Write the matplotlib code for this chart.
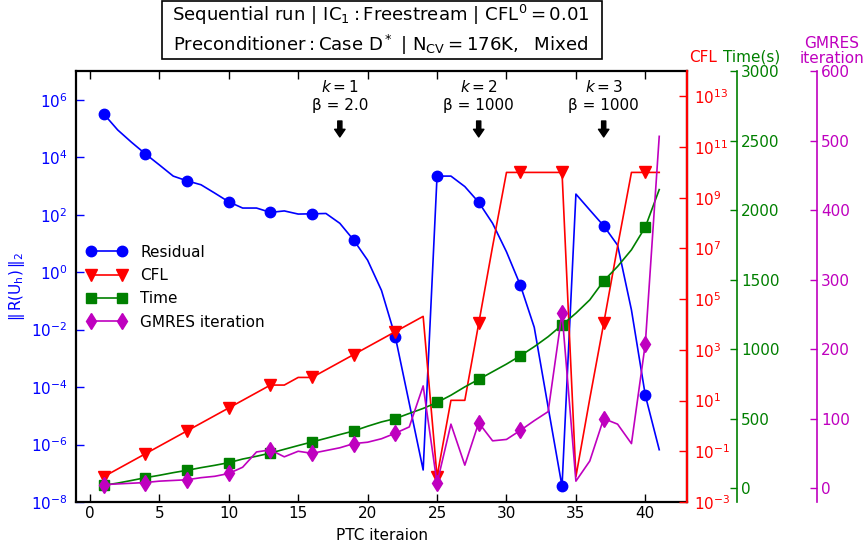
"""
Convergence history of the PTC solver: residual, CFL, wall time and
GMRES iterations against the pseudo-time iteration.
"""
import numpy as np
import matplotlib
matplotlib.use("Agg")
import matplotlib.pyplot as plt
import matplotlib.transforms as mtransforms
from matplotlib.patches import Rectangle

iters = np.arange(1, 42)

residual = [3.2e5, 8.9e4, 3.3e4, 1.3e4, 5.4e3, 2.2e3, 1.5e3, 1.1e3, 5.6e2, 2.8e2,
            1.7e2, 1.7e2, 1.2e2, 1.35e2, 1.05e2, 1.07e2, 1.1e2, 50.0, 13.0, 2.6,
            0.23, 5.5e-3, 2.7e-5, 1.3e-7, 2.2e3, 2.2e3, 9.5e2, 2.7e2, 50.0, 5.1,
            0.35, 1.2e-2, 2.0e-5, 3.5e-8, 5.2e2, 1.45e2, 41.0, 8.7, 4.8e-2, 5.1e-5,
            6.6e-7]

cfl = [0.01, 0.02, 0.04, 0.08, 0.16, 0.32, 0.64, 1.28, 2.56, 5.12,
       10.24, 20.48, 40.96, 40.96, 81.92, 81.92, 163.84, 327.68, 655.36, 1310.72,
       2621.44, 5242.88, 10485.76, 20971.52, 0.01, 10.24, 10.24, 1.1e4, 1.2e7, 1e10,
       1e10, 1e10, 1e10, 1e10, 0.01, 12.0, 1.1e4, 1.2e7, 1e10, 1e10,
       1e10]

time_s = [20, 36, 55, 75, 92, 111, 128, 147, 164, 183,
          209, 229, 252, 279, 306, 332, 358, 385, 411, 445,
          476, 500, 537, 573, 616, 668, 728, 782, 837, 892,
          952, 1017, 1089, 1173, 1258, 1354, 1490, 1594, 1714, 1878,
          2147]

gmres = [5, 6, 7, 8, 10, 11, 12, 15, 17, 21,
         30, 52, 55, 45, 53, 50, 54, 58, 64, 66,
         71, 79, 88, 147, 7, 92, 33, 94, 68, 70,
         83, 97, 110, 252, 10, 39, 100, 92, 64, 208,
         506]

# k, beta of each restart and the iteration it is marked at
restart_iter = [18, 28, 37]
restart_k = ["1", "2", "3"]
restart_beta = ["2.0", "1000", "1000"]

plt.rcParams['font.family'] = 'DejaVu Sans'
plt.rcParams['font.size'] = 11

fig = plt.figure(figsize=(8.65, 5.48), dpi=100)
ax = fig.add_axes([76/865, 1 - 502/548, (687 - 76)/865, (502 - 71)/548])
ax2 = ax.twinx()
ax3 = ax.twinx()
ax4 = ax.twinx()

ms = 7.5
l1, = ax.semilogy(iters, residual, 'b-', marker='o', markevery=(0, 3), ms=ms,
                  mec='b', lw=1.2, label='Residual')
l2, = ax2.semilogy(iters, cfl, 'r-', marker='v', markevery=(0, 3), ms=ms + 1,
                   mec='r', lw=1.2, label='CFL')
l3, = ax3.plot(iters, time_s, '-', color='#008000', marker='s', markevery=(0, 3),
               ms=ms, mec='#008000', lw=1.2, label='Time')
l4, = ax4.plot(iters, gmres, '-', color='#bf00bf', marker='d', markevery=(0, 3),
               ms=ms + 1, mec='#bf00bf', lw=1.2, label='GMRES iteration')

# main axis
ax.set_xlim(-1, 43)
ax.set_ylim(1e-8, 1e7)
ax.set_xticks(np.arange(0, 45, 5))
ax.set_yticks([10.0**p for p in range(-8, 7, 2)])
ax.yaxis.set_minor_locator(matplotlib.ticker.NullLocator())
ax.tick_params(axis='x', direction='in', top=True, length=6, width=1, pad=3)
ax.tick_params(axis='y', direction='in', colors='b', length=6, width=1, pad=6)
ax.set_xlabel('PTC iteraion', labelpad=5)
ax.set_ylabel(r'$\Vert\,\mathrm{R(U_h)}\,\Vert_2$', color='b', labelpad=3)
for s in ax.spines.values():
    s.set_linewidth(1.6)

# CFL axis
ax2.set_ylim(1e-3, 1e14)
ax2.set_yticks([10.0**p for p in range(-3, 14, 2)])
ax2.yaxis.set_minor_locator(matplotlib.ticker.NullLocator())
ax2.tick_params(axis='y', direction='in', colors='r', length=6, width=1, pad=5)
ax2.spines['right'].set_color('r')
ax2.spines['right'].set_linewidth(1.6)
for side in ['left', 'top', 'bottom']:
    ax2.spines[side].set_visible(False)

# time axis
ax3.set_ylim(-100, 3000)
ax3.set_yticks(np.arange(0, 3001, 500))
ax3.spines['right'].set_position(('outward', 36))
ax3.spines['right'].set_color('#008000')
ax3.spines['right'].set_linewidth(1.2)
ax3.tick_params(axis='y', direction='in', colors='#008000', length=5, width=1, pad=3)
for side in ['left', 'top', 'bottom']:
    ax3.spines[side].set_visible(False)

# GMRES axis
ax4.set_ylim(-20, 600)
ax4.set_yticks(np.arange(0, 601, 100))
ax4.spines['right'].set_position(('outward', 93.6))
ax4.spines['right'].set_color('#bf00bf')
ax4.spines['right'].set_linewidth(1.2)
ax4.tick_params(axis='y', direction='in', colors='#bf00bf', length=5, width=1, pad=3)
for side in ['left', 'top', 'bottom']:
    ax4.spines[side].set_visible(False)

# axis titles above the right spines
fig.text(703/865, 1 - 57/548, 'CFL', color='r', ha='center', va='center')
fig.text(752/865, 1 - 57/548, 'Time(s)', color='#008000', ha='center', va='center')
fig.text(832/865, 1 - 51/548, 'GMRES\niteration', color='#bf00bf', ha='center',
         va='center', linespacing=0.95)

ax.legend([l1, l2, l3, l4], [l.get_label() for l in [l1, l2, l3, l4]],
          loc='upper left', bbox_to_anchor=(0.0, 0.622), frameon=False,
          numpoints=2, handlelength=2.6, handletextpad=0.9, labelspacing=0.55,
          borderaxespad=0.3)

# restart markers
trans = mtransforms.blended_transform_factory(ax.transData, ax.transAxes)
for xi, k, b in zip(restart_iter, restart_k, restart_beta):
    ax.text(xi, 0.963, r'$k=%s$' % k, transform=trans, ha='center', va='center')
    ax.text(xi, 0.919, 'β = %s' % b, transform=trans, ha='center', va='center')
    ax.annotate('', xy=(xi, 0.847), xytext=(xi, 0.884), xycoords=trans,
                textcoords=trans,
                arrowprops=dict(facecolor='k', edgecolor='k', width=3,
                                headwidth=7.5, headlength=5.5, shrink=0))

# run description box on top
fig.patches.append(Rectangle((162/865, 1 - 59/548), 440/865, 58/548,
                             transform=fig.transFigure, fc='w', ec='k', lw=1.2))
fig.text(381/865, 1 - 30/548,
         r'$\mathrm{Sequential\ run\ |\ IC_1:Freestream\ |\ CFL^0=0.01}$' + '\n'
         r'$\mathrm{Preconditioner:Case\ D^*\ |\ N_{CV}=176K,\ \ Mixed}$',
         ha='center', va='center', fontsize=13.1, linespacing=1.3)

fig.savefig('out.png', dpi=100)
